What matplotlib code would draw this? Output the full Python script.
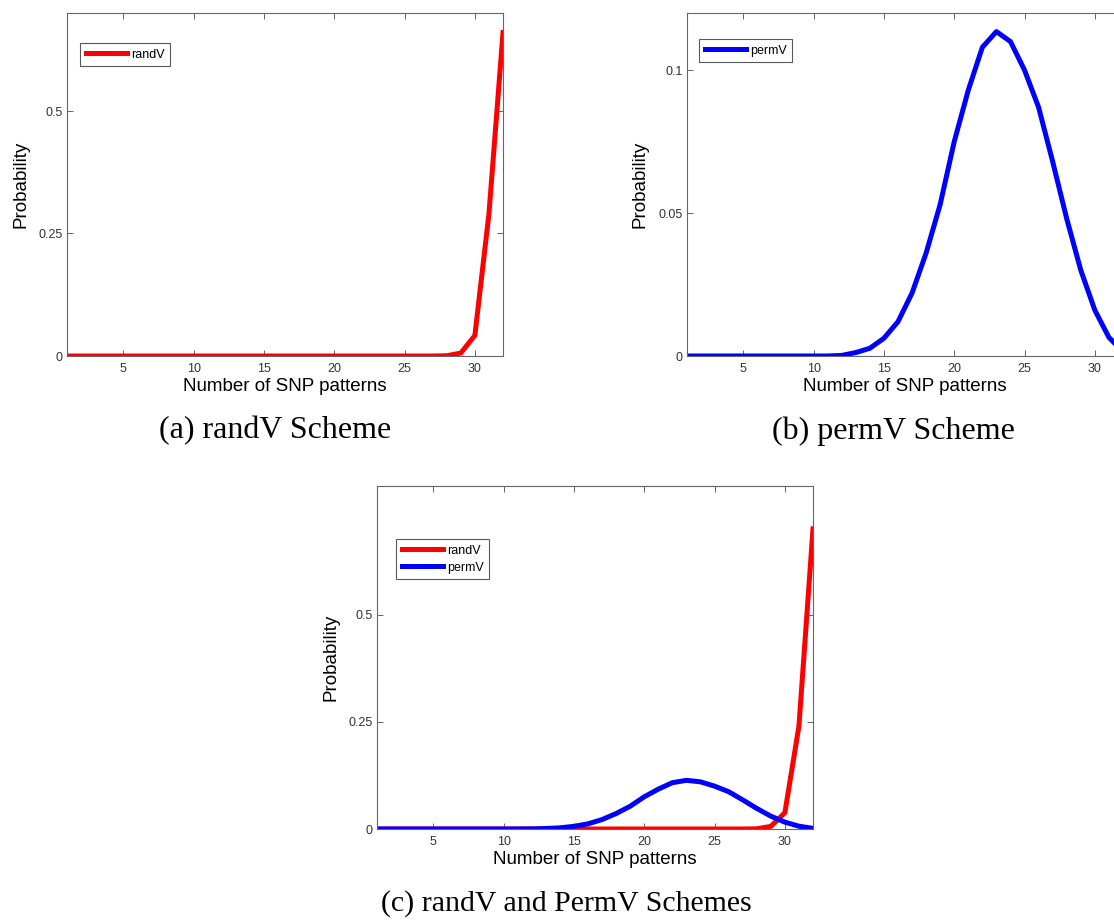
import numpy as np
import matplotlib
matplotlib.use("Agg")
import matplotlib.pyplot as plt

# x = number of SNP patterns (1..32)
n_patterns = list(range(1, 33))

# randV probabilities, panel (a)
randv_a = [0.0] * 27 + [0.0005, 0.006, 0.042, 0.29, 0.66]
# randV probabilities, panel (c)
randv_c = [0.0] * 27 + [0.0005, 0.006, 0.038, 0.24, 0.70]
# permV probabilities (panels b and c)
permv = [0.0] * 11 + [0.0002, 0.0012, 0.0027, 0.0062, 0.012, 0.022, 0.036,
                      0.053, 0.075, 0.093, 0.108, 0.1135, 0.110, 0.100,
                      0.087, 0.068, 0.048, 0.030, 0.016, 0.0065, 0.0015]

xticks = [5, 10, 15, 20, 25, 30]
captions = ["(a) randV Scheme", "(b) permV Scheme", "(c) randV and PermV Schemes"]

plt.rcParams['font.family'] = ['Liberation Sans', 'DejaVu Sans']

W, H = 1114, 922
fig = plt.figure(figsize=(W / 100, H / 100), dpi=100)


def px_axes(left, top, right, bottom):
    return fig.add_axes([left / W, 1 - bottom / H, (right - left) / W, (bottom - top) / H])


def style(ax, ylim, yticks, yticklabels, ylab_x):
    ax.set_xlim(1, 32)
    ax.set_ylim(*ylim)
    ax.set_xticks(xticks)
    ax.set_yticks(yticks)
    ax.set_yticklabels(yticklabels)
    ax.tick_params(direction='in', length=4, width=0.6, top=True, right=True,
                   labelsize=9, colors='0.3', labelcolor='0.2')
    ax.tick_params(axis='x', pad=5)
    ax.tick_params(axis='y', pad=3)
    for s in ax.spines.values():
        s.set_color('0.4')
        s.set_linewidth(0.8)
    ax.set_xlabel("Number of SNP patterns", fontsize=13.5)
    ax.set_ylabel("Probability", fontsize=13.5)
    ax.xaxis.set_label_coords(0.5, -0.064)
    ax.yaxis.set_label_coords(ylab_x, 0.5)


def legend(ax, anchor):
    ax.legend(loc='upper left', bbox_to_anchor=anchor, borderaxespad=0,
              fontsize=9, handlelength=3.3, handletextpad=0.3, borderpad=0.45,
              labelspacing=0.4, fancybox=False, framealpha=1,
              edgecolor='0.35').get_frame().set_linewidth(0.8)


# (a)
ax1 = px_axes(67, 13, 503, 356)
ax1.plot(n_patterns, randv_a, color='red', lw=3.6, label='randV')
style(ax1, (0, 0.7), [0, 0.25, 0.5], ['0', '0.25', '0.5'], -0.087)
legend(ax1, (0.03, 0.912))

# (b) - right edge runs off the page in the original
ax2 = px_axes(687, 13, 1123, 356)
ax2.plot(n_patterns, permv, color='blue', lw=3.6, label='permV')
style(ax2, (0, 0.12), [0, 0.05, 0.1], ['0', '0.05', '0.1'], -0.089)
legend(ax2, (0.028, 0.924))

# (c)
ax3 = px_axes(377, 486, 813, 829)
ax3.plot(n_patterns, randv_c, color='red', lw=3.6, label='randV')
ax3.plot(n_patterns, permv, color='blue', lw=3.6, label='permV')
style(ax3, (0, 0.8), [0, 0.25, 0.5], ['0', '0.25', '0.5'], -0.085)
legend(ax3, (0.044, 0.845))

fig.text(275 / W, 1 - 431 / H, captions[0], family='Liberation Serif', fontsize=23,
         ha='center', va='center')
fig.text(893 / W, 1 - 431 / H, captions[1], family='Liberation Serif', fontsize=23,
         ha='center', va='center')
fig.text(566 / W, 1 - 904 / H, captions[2], family='Liberation Serif', fontsize=21.5,
         ha='center', va='center')

fig.savefig("out.png", dpi=100)
